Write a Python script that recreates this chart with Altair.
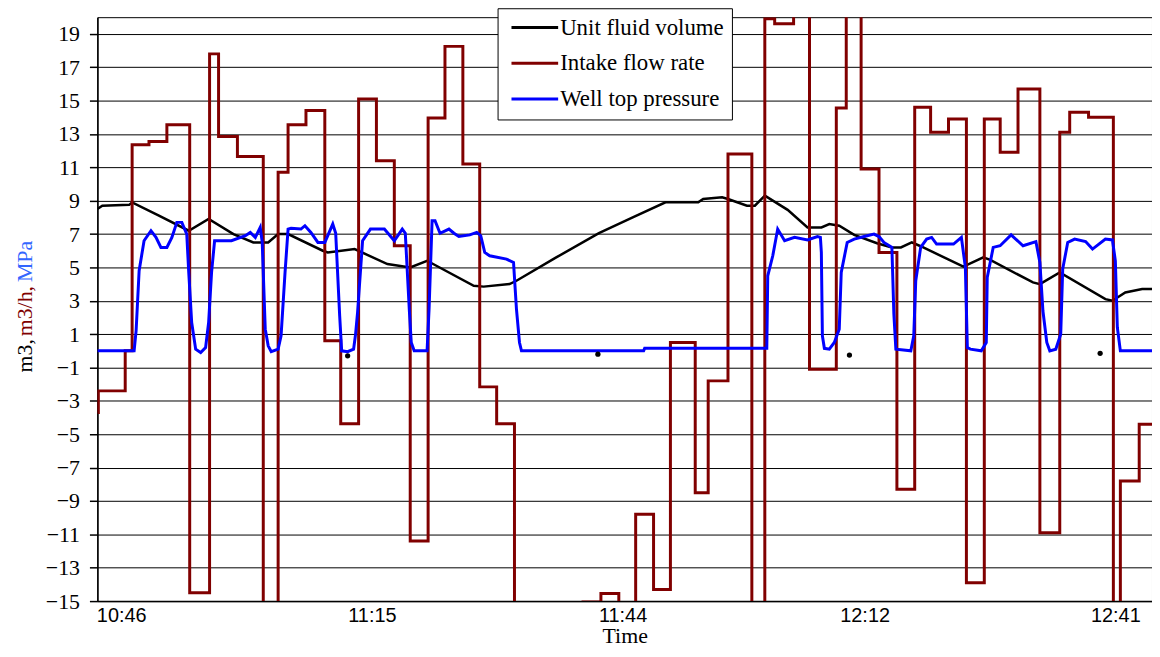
import altair as alt
import pandas as pd

# ---------------- data (x in minutes after 10:46) ----------------
series_names = ["Unit fluid volume", "Intake flow rate", "Well top pressure"]
series_colors = ["#000000", "#800000", "#0000FF"]

vol_t = [0, 0.57, 3.68, 4.02, 7.12, 10.57, 12.87, 15.74, 18.04, 19.76, 20.91, 22.06, 26.08, 26.65,
         29.76, 33.55, 36.19, 38.14, 43.54, 44.69, 47.68, 48.48, 53.08, 58.02, 61.93, 65.72, 69.51,
         70.08, 72.27, 72.95, 75.14, 76.06, 77.21, 79.85, 82.15, 83.76, 84.67, 85.82, 87.55, 90.19,
         91.91, 92.95, 94.21, 95.24, 100.18, 102.48, 103.29, 108.23, 109.03, 111.33, 116.61, 117.42,
         118.91, 120.86, 122.0]
vol_v = [8.5, 8.7, 8.75, 8.9, 8.1, 7.2, 7.9, 7.0, 6.5, 6.5, 7.0, 7.0, 6.0, 5.9, 6.1, 5.2, 5.0, 5.4,
         3.9, 3.85, 4.0, 4.2, 5.6, 7.05, 8.0, 8.9, 8.9, 9.1, 9.2, 9.1, 8.7, 8.7, 9.3, 8.45, 7.4, 7.4,
         7.6, 7.5, 6.95, 6.45, 6.2, 6.2, 6.5, 6.27, 5.05, 5.6, 5.45, 4.1, 4.0, 4.7, 3.1, 3.0, 3.5,
         3.7, 3.7]

flow_t = [0, 0.11, 3.22, 4.02, 5.97, 8.04, 10.68, 12.98, 14.02, 16.2, 19.19, 20.91, 22.06, 24.13,
          26.31, 28.15, 30.22, 32.28, 34.35, 36.19, 38.26, 40.21, 42.28, 44.23, 46.19, 48.25, 56.18,
          58.25, 60.32, 62.27, 64.34, 66.29, 69.16, 70.66, 72.95, 75.71, 77.21, 78.35, 80.54, 82.38,
          85.48, 86.63, 88.35, 90.42, 92.49, 94.55, 96.39, 98.46, 100.53, 102.6, 104.44, 106.5,
          109.03, 111.33, 112.48, 114.66, 117.53, 118.34, 120.52, 122.0]
flow_v = [-3.7, -2.4, 0.0, 12.35, 12.55, 13.55, -14.5, 17.8, 12.85, 11.65, -20, 10.7, 13.55, 14.4,
          0.6, -4.37, 15.1, 11.4, 6.3, -11.4, 13.95, 18.25, 11.2, -2.16, -4.37, -20, -15.05, -14.55,
          -20, -9.8, -14.3, 0.5, -8.5, -1.8, 11.8, -20, 19.9, 19.6, 25, -1.1, 14.55, 25, 10.9, 5.9,
          -8.3, 14.6, 13.1, 13.9, -13.9, 13.9, 11.9, 15.7, -10.9, 13.1, 14.3, 14.0, -20, -7.8, -4.4,
          -4.4]

pres_t = [0, 4.25, 4.48, 4.83, 5.40, 6.20, 6.78, 7.35, 8.04, 8.62,
          9.19, 9.77, 10.34, 10.57, 10.91, 11.37, 11.95, 12.52, 12.87, 13.21,
          13.56, 14.02, 15.51, 17.12, 17.69, 18.27, 18.84, 19.07, 19.42, 19.76,
          20.11, 20.91, 21.25, 21.71, 22.06, 22.40, 23.55, 24.01, 24.70, 25.51,
          26.31, 27.23, 27.57, 28.03, 28.26, 28.95, 29.64, 29.87, 30.10, 30.68,
          31.59, 33.20, 34.35, 35.27, 35.62, 36.08, 36.31, 36.65, 38.14, 38.37,
          38.72, 39.06, 39.64, 40.67, 41.25, 41.82, 43.08, 43.89, 44.35, 44.81,
          45.38, 47.33, 48.14, 48.48, 48.83, 49.06, 63.19, 63.31, 77.44, 77.55,
          78.13, 78.70, 79.50, 80.65, 82.15, 83.30, 83.64, 83.75, 83.87, 84.10,
          84.67, 85.25, 85.82, 86.05, 86.74, 87.55, 88.70, 89.84, 90.42, 90.99,
          91.91, 92.14, 92.37, 94.10, 94.44, 94.67, 95.24, 95.93, 96.51, 97.08,
          99.04, 99.95, 100.41, 100.64, 100.99, 102.25, 102.83, 102.94, 103.63, 104.43,
          105.70, 107.08, 108.57, 109.03, 109.38, 109.83, 110.18, 110.87, 111.44, 111.67,
          112.25, 113.05, 114.32, 115.12, 116.61, 117.42, 117.76, 117.99, 118.34, 122.0]
pres_v = [0, 0, 1.2, 4.8, 6.6, 7.2, 6.8, 6.2, 6.2, 6.8,
          7.7, 7.7, 7.0, 4.7, 1.7, 0.1, -0.1, 0.2, 1.7, 4.7,
          6.6, 6.6, 6.6, 6.9, 7.1, 6.8, 7.4, 6.5, 1.3, 0.3,
          -0.05, 0.1, 0.9, 4.7, 7.3, 7.35, 7.3, 7.5, 7.1, 6.5,
          6.5, 7.6, 7.05, 2.1, 0.0, -0.05, 0.1, 1.0, 2.3, 6.6,
          7.3, 7.3, 6.6, 7.3, 7.05, 2.5, 0.5, 0.0, 0.0, 2.5,
          7.8, 7.8, 7.05, 7.3, 7.05, 6.85, 6.95, 7.1, 6.9, 5.9,
          5.7, 5.5, 5.3, 2.5, 0.5, 0.0, 0.0, 0.15, 0.15, 4.5,
          5.7, 7.3, 6.6, 6.8, 6.65, 6.85, 6.8, 5.9, 0.9, 0.15,
          0.1, 0.5, 1.3, 4.7, 6.5, 6.7, 6.85, 7.0, 6.85, 6.5,
          6.2, 2.2, 0.1, 0.0, 0.9, 4.2, 6.2, 6.7, 6.8, 6.4,
          6.4, 6.8, 5.0, 0.2, 0.1, 0.0, 0.5, 4.4, 6.2, 6.3,
          6.95, 6.3, 6.55, 5.3, 2.4, 0.5, 0.0, 0.1, 1.0, 4.9,
          6.5, 6.7, 6.55, 6.1, 6.7, 6.65, 5.4, 1.4, 0.0, 0.0]

dot_t = [28.95, 57.9, 87.0, 116.0]
dot_v = [-0.3, -0.2, -0.25, -0.15]

x_tick_values = [0, 29, 58, 86, 115]
x_tick_labels = ["10:46", "11:15", "11:44", "12:12", "12:41"]
y_tick_values = [-15, -13, -11, -9, -7, -5, -3, -1, 1, 3, 5, 7, 9, 11, 13, 15, 17, 19]

title_parts = ["m3,", "m3/h,", "MPa"]
title_colors = ["#000000", "#800000", "#3366FF"]

# ---------------- build ----------------
vol_df = pd.DataFrame({"t": vol_t, "v": vol_v, "series": series_names[0]})
flow_df = pd.DataFrame({"t": flow_t, "v": flow_v, "series": series_names[1]})
pres_df = pd.DataFrame({"t": pres_t, "v": pres_v, "series": series_names[2]})
dot_df = pd.DataFrame({"t": dot_t, "v": dot_v})

label_expr = " : ".join(
    f"datum.value == {v} ? '{l}'" for v, l in zip(x_tick_values, x_tick_labels)
) + " : ''"

x_enc = alt.X(
    "t:Q",
    scale=alt.Scale(domain=[0, 122], nice=False, zero=False),
    axis=alt.Axis(
        values=x_tick_values, tickCount=len(x_tick_values), labelExpr=label_expr,
        ticks=False, tickSize=0, grid=False,
        domainColor="black", domainWidth=1.5,
        labelFont="Liberation Sans", labelFontSize=20, labelColor="black",
        labelPadding=5, labelOffset=24, labelFlush=False, labelOverlap=False,
        title="Time", titleFont="Liberation Serif", titleFontSize=22,
        titleFontWeight="normal", titleColor="black", titlePadding=17,
        titleBaseline="alphabetic",
    ),
)
y_enc = alt.Y(
    "v:Q",
    scale=alt.Scale(domain=[-15, 20], nice=False, zero=False),
    axis=alt.Axis(
        values=y_tick_values, tickCount=len(y_tick_values),
        grid=True, gridColor="black", gridWidth=1, gridOpacity=1,
        ticks=True, tickSize=8, tickColor="black", tickWidth=1.5,
        domainColor="black", domainWidth=1.5, labelOverlap=False,
        labelFont="Liberation Serif", labelFontSize=22, labelColor="black", labelPadding=10,
        title=None,
    ),
)
color_enc = alt.Color(
    "series:N",
    scale=alt.Scale(domain=series_names, range=series_colors),
    legend=alt.Legend(
        title=None, orient="none", legendX=403, legendY=-9, direction="vertical",
        symbolType="M-4,0H4", symbolSize=138, symbolStrokeWidth=3, symbolOffset=18,
        labelFont="Liberation Serif", labelFontSize=23, labelColor="black",
        labelOffset=14, labelLimit=400, padding=8, rowPadding=12,
        strokeColor="black", fillColor="white", cornerRadius=0,
    ),
)

vol = alt.Chart(vol_df).mark_line(strokeWidth=2.5, clip=True).encode(x=x_enc, y=y_enc, color=color_enc)
flow = alt.Chart(flow_df).mark_line(strokeWidth=3, interpolate="step-after", clip=True).encode(
    x=x_enc, y=y_enc, color=color_enc)
pres = alt.Chart(pres_df).mark_line(strokeWidth=3, clip=True).encode(x=x_enc, y=y_enc, color=color_enc)
dots = alt.Chart(dot_df).mark_circle(color="black", size=28, opacity=1).encode(x="t:Q", y="v:Q")

title_y = [341, 296, 246]
title_layers = []
for part, col, yy in zip(title_parts, title_colors, title_y):
    title_layers.append(
        alt.Chart(pd.DataFrame({"label": [part]})).mark_text(
            angle=270, font="Liberation Serif", fontSize=22, color=col,
            align="center", baseline="alphabetic",
        ).encode(text="label:N", x=alt.value(-66), y=alt.value(yy))
    )

chart = alt.layer(vol, flow, pres, dots, *title_layers).properties(
    width=1062, height=588,
    padding={"left": 90, "top": 7, "right": 0, "bottom": 46},
    autosize=alt.AutoSizeParams(type="none"),
    background="white",
).configure_view(stroke="black", strokeWidth=1)

chart.save("out.html", embed_options={"renderer": "svg", "actions": False})
